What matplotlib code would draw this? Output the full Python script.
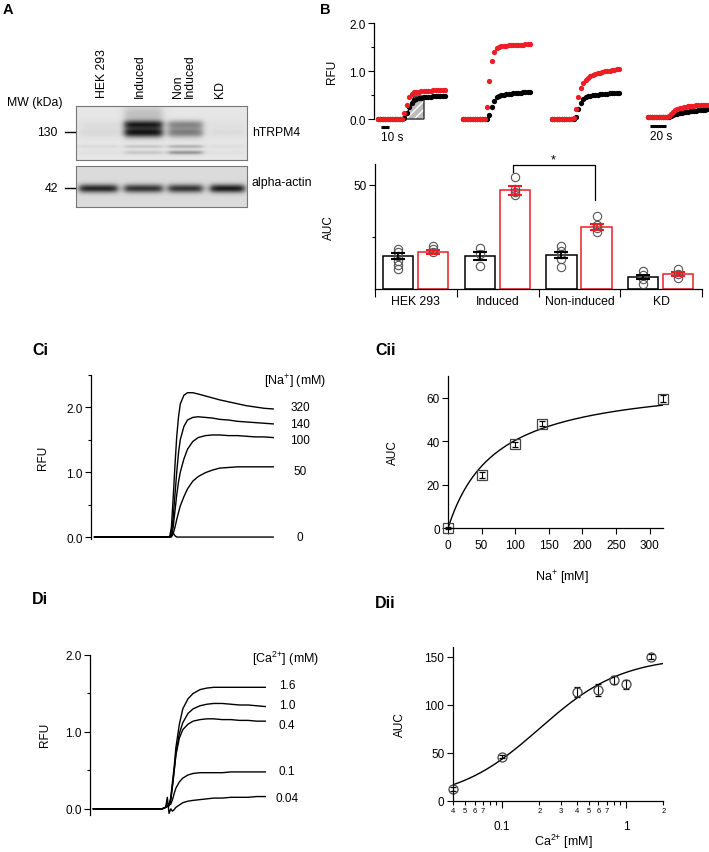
import numpy as np
import matplotlib
matplotlib.use("Agg")
import matplotlib.pyplot as plt
from matplotlib.patches import Polygon
from matplotlib.ticker import FixedLocator, FixedFormatter

plt.rcParams['font.family'] = ['Liberation Sans', 'DejaVu Sans']
plt.rcParams['mathtext.default'] = 'regular'
plt.rcParams['axes.linewidth'] = 0.9

# ---------------- data ----------------
# Panel A: western blot lanes and band intensities
lane_names = ["HEK 293", "Induced", "Non\nInduced", "KD"]
trpm4_rows = [18, 26, 40, 46]                 # band rows (px inside blot)
trpm4_amp = [[0.03, 0.05, 0.05, 0.02],        # HEK 293
             [0.70, 0.80, 0.12, 0.12],        # Induced
             [0.35, 0.40, 0.20, 0.30],        # Non induced
             [0.02, 0.04, 0.03, 0.02]]        # KD
actin_amp = [0.70, 0.65, 0.65, 0.75]

# Panel B top: example fluorescence traces (RFU)
t_short = [0, 3, 6, 9, 12, 15, 18, 21, 24, 27, 30, 33, 36, 39, 42, 45, 48,
           51, 54, 57, 60, 63, 66, 69, 72, 75, 78, 81, 84]
t_long = [0, 6, 12, 18, 24, 30, 36, 42, 48, 54, 60, 66, 72, 78, 84, 90, 96,
          102, 108, 114, 120, 126, 132, 138, 144, 150, 156, 162, 168]
hek_red = [0, 0, 0, 0, 0, 0, 0, 0, 0, 0, 0.0, 0.12, 0.30, 0.45, 0.53, 0.56,
           0.57, 0.57, 0.58, 0.58, 0.59, 0.59, 0.59, 0.60, 0.60, 0.60, 0.61, 0.61, 0.61]
hek_black = [0, 0, 0, 0, 0, 0, 0, 0, 0, 0, 0.0, 0.02, 0.12, 0.25, 0.34, 0.39,
             0.42, 0.43, 0.44, 0.45, 0.45, 0.46, 0.46, 0.47, 0.47, 0.48, 0.48, 0.49, 0.49]
ind_red = [0, 0, 0, 0, 0, 0, 0, 0, 0, 0.0, 0.25, 0.80, 1.20, 1.40, 1.47, 1.50,
           1.52, 1.53, 1.53, 1.54, 1.54, 1.54, 1.55, 1.55, 1.55, 1.55, 1.56, 1.56, 1.56]
ind_black = [0, 0, 0, 0, 0, 0, 0, 0, 0, 0, 0.0, 0.08, 0.25, 0.38, 0.45, 0.48,
             0.50, 0.51, 0.52, 0.53, 0.53, 0.54, 0.54, 0.55, 0.55, 0.56, 0.56, 0.57, 0.57]
non_red = [0, 0, 0, 0, 0, 0, 0, 0, 0, 0.02, 0.20, 0.45, 0.65, 0.76, 0.82, 0.86,
           0.89, 0.91, 0.93, 0.95, 0.96, 0.98, 0.99, 1.00, 1.01, 1.02, 1.03, 1.04, 1.05]
non_black = [0, 0, 0, 0, 0, 0, 0, 0, 0, 0, 0.05, 0.20, 0.34, 0.42, 0.46, 0.48,
             0.49, 0.50, 0.51, 0.51, 0.52, 0.52, 0.53, 0.53, 0.54, 0.54, 0.54, 0.55, 0.55]
kd_red = [0.05, 0.05, 0.05, 0.05, 0.05, 0.05, 0.05, 0.05, 0.05, 0.05, 0.07, 0.11,
          0.15, 0.18, 0.20, 0.22, 0.24, 0.25, 0.26, 0.27, 0.27, 0.28, 0.28, 0.29,
          0.29, 0.29, 0.30, 0.30, 0.30]
kd_black = [0.05, 0.05, 0.05, 0.05, 0.05, 0.05, 0.05, 0.05, 0.05, 0.05, 0.04, 0.06,
            0.08, 0.10, 0.11, 0.12, 0.13, 0.14, 0.15, 0.15, 0.16, 0.16, 0.17, 0.17,
            0.18, 0.18, 0.19, 0.19, 0.20]

# Panel B bottom: AUC bars
cell_lines = ["HEK 293", "Induced", "Non-induced", "KD"]
auc_black = [16.0, 16.0, 16.3, 5.9]
auc_black_sem = [1.5, 2.0, 1.5, 1.0]
auc_red = [17.9, 47.3, 29.6, 7.2]
auc_red_sem = [1.0, 2.0, 1.5, 0.8]
pts_black = [[19.2, 17.6, 16.0, 13.6, 11.5, 9.6], [19.6, 16.8, 11.2],
             [20.8, 18.4, 16.8, 14.4, 10.4], [8.8, 6.7, 4.8, 2.4]]
pts_red = [[20.8, 19.2, 17.6], [53.7, 48.1, 46.5, 44.9],
           [35.2, 30.8, 29.2, 27.6], [9.6, 7.2, 5.1]]

# Panel Ci: traces for different [Na+]
t_trace = [0, 40, 42, 43, 44, 45, 46, 47, 48, 50, 52, 55, 58, 62, 66, 70, 75,
           80, 85, 90, 95, 100]
na_levels = ["320", "140", "100", "50", "0"]
na_traces = [
    [0, 0, 0, 0.15, 0.60, 1.10, 1.55, 1.85, 2.05, 2.18, 2.22, 2.22, 2.20, 2.17,
     2.14, 2.11, 2.08, 2.05, 2.02, 2.00, 1.98, 1.97],
    [0, 0, 0, 0.05, 0.30, 0.65, 1.00, 1.30, 1.50, 1.70, 1.80, 1.84, 1.85, 1.84,
     1.83, 1.81, 1.80, 1.78, 1.77, 1.76, 1.75, 1.74],
    [0, 0, 0, 0.02, 0.15, 0.40, 0.65, 0.85, 1.00, 1.20, 1.35, 1.47, 1.53, 1.56,
     1.57, 1.57, 1.56, 1.56, 1.55, 1.54, 1.54, 1.53],
    [0, 0, 0, 0, 0.05, 0.15, 0.27, 0.38, 0.48, 0.62, 0.74, 0.86, 0.93, 0.99,
     1.03, 1.06, 1.07, 1.08, 1.08, 1.08, 1.08, 1.08],
    [0, 0, 0, 0.03, 0.06, 0.02, 0, 0, 0, 0, 0, 0, 0, 0, 0, 0, 0, 0, 0, 0, 0, 0],
]

# Panel Cii: AUC vs Na+
na_conc = [0, 50, 100, 140, 320]
na_auc = [0.0, 24.5, 38.5, 48.0, 59.5]
na_sem = [0.5, 1.5, 1.2, 1.2, 1.5]
na_vmax, na_km = 69.0, 71.0      # Michaelis-Menten fit

# Panel Di: traces for different [Ca2+]
ca_levels = ["1.6", "1.0", "0.4", "0.1", "0.04"]
ca_traces = [
    [0, 0, 0.02, 0.04, 0.05, 0.15, 0.35, 0.55, 0.80, 1.10, 1.30, 1.43, 1.50, 1.55,
     1.57, 1.58, 1.58, 1.58, 1.58, 1.58, 1.58, 1.58],
    [0, 0, 0.02, 0.03, 0.04, 0.12, 0.30, 0.50, 0.72, 0.98, 1.12, 1.24, 1.30, 1.34,
     1.36, 1.37, 1.37, 1.36, 1.35, 1.35, 1.34, 1.33],
    [0, 0, 0.02, 0.03, 0.04, 0.12, 0.30, 0.50, 0.70, 0.92, 1.03, 1.10, 1.14, 1.16,
     1.17, 1.17, 1.16, 1.16, 1.15, 1.15, 1.14, 1.14],
    [0, 0, 0.02, 0.08, 0.05, 0.06, 0.12, 0.20, 0.27, 0.35, 0.40, 0.44, 0.46, 0.47,
     0.47, 0.47, 0.47, 0.48, 0.48, 0.48, 0.48, 0.48],
    [0, 0, 0.02, 0.15, -0.06, 0.0, -0.03, -0.01, 0.02, 0.05, 0.08, 0.10, 0.11,
     0.12, 0.13, 0.14, 0.14, 0.15, 0.15, 0.15, 0.16, 0.16],
]

# Panel Dii: AUC vs Ca2+
ca_conc = [0.04, 0.1, 0.4, 0.6, 0.8, 1.0, 1.6]
ca_auc = [12, 46, 113, 115, 126, 121, 150]
ca_sem = [2, 2, 5, 6, 4, 5, 3]
ca_ymax, ca_ec50, ca_hill = 150.0, 0.2, 1.3   # Hill fit

RED = '#ee1c24'
FS = 8.5

# ---------------- layout helpers ----------------
W, H = 709, 853
fig = plt.figure(figsize=(W / 100, H / 100), dpi=100)


def box(x0, y0, x1, y1):
    return [x0 / W, 1 - y1 / H, (x1 - x0) / W, (y1 - y0) / H]


def ftext(x, y, s, **kw):
    fig.text(x / W, 1 - y / H, s, **kw)


def style(ax):
    ax.spines['top'].set_visible(False)
    ax.spines['right'].set_visible(False)
    ax.tick_params(direction='out', length=4, width=0.8, labelsize=FS, pad=2)
    ax.tick_params(which='minor', direction='out', length=2.5, width=0.8)
    ax.patch.set_alpha(0)


# ---------------- Panel A ----------------
def blot_image(h, w, bands, bg):
    yy, xx = np.mgrid[0:h, 0:w]
    img = np.full((h, w), bg)
    for cx, hw, cy, sy, amp in bands:
        prof_x = 1 / (1 + np.exp((np.abs(xx - cx) - hw) / 2.0))
        prof_y = np.exp(-0.5 * ((yy - cy) / sy) ** 2)
        img = img - amp * prof_x * prof_y
    return np.clip(img, 0, 1)


lane_cx = [22, 67, 109, 151]
lane_hw = [19, 19, 17, 17]
band_sy = [3.0, 3.5, 1.3, 1.5]

top_bands = []
for i in range(4):
    for j in range(4):
        top_bands.append((lane_cx[i], lane_hw[i], trpm4_rows[j], band_sy[j], trpm4_amp[i][j]))
top_bands.append((lane_cx[1], lane_hw[1], 8, 6, 0.15))   # smear above induced band
bot_bands = [(lane_cx[i], lane_hw[i], 22, 3.0, actin_amp[i]) for i in range(4)]

ax_b1 = fig.add_axes(box(76, 107, 247, 161))
ax_b1.imshow(blot_image(54, 171, top_bands, 0.90), cmap='gray', vmin=0, vmax=1, aspect='auto')
ax_b2 = fig.add_axes(box(76, 167, 247, 208))
ax_b2.imshow(blot_image(41, 171, bot_bands, 0.86), cmap='gray', vmin=0, vmax=1, aspect='auto')
for ax in (ax_b1, ax_b2):
    ax.set_xticks([])
    ax.set_yticks([])
    for sp in ax.spines.values():
        sp.set_color('#777777')
        sp.set_linewidth(0.8)

ftext(3, 10, "A", fontsize=10.5, fontweight='bold', va='center')
label_x = [102, 140, 184, 220]
for x, name in zip(label_x, lane_names):
    ftext(x, 98, name, rotation=90, ha='center', va='bottom', fontsize=8.8,
          multialignment='left', linespacing=1.0)
ftext(7, 103, "MW (kDa)", fontsize=8.8, va='center')
ftext(58, 133, "130", fontsize=8.8, ha='right', va='center')
ftext(58, 189, "42", fontsize=8.8, ha='right', va='center')
fig.add_artist(plt.Line2D([65 / W, 75 / W], [1 - 133 / H, 1 - 133 / H], color='black', lw=1))
fig.add_artist(plt.Line2D([65 / W, 75 / W], [1 - 189 / H, 1 - 189 / H], color='black', lw=1))
ftext(252, 133, "hTRPM4", fontsize=8.8, va='center')
ftext(251, 183, "alpha-actin", fontsize=8.8, va='center')

# ---------------- Panel B top: traces ----------------
ftext(320, 10, "B", fontsize=10.5, fontweight='bold', va='center')
ax_tr = fig.add_axes(box(374, 24, 708, 145))
style(ax_tr)
ax_tr.spines['bottom'].set_visible(False)
ax_tr.set_xlim(0, 417.5)
ax_tr.set_ylim(-0.52, 2.0)
ax_tr.spines['left'].set_bounds(0, 2)
ax_tr.set_xticks([])
ax_tr.set_yticks([0, 1, 2])
ax_tr.set_yticklabels(["0.0", "1.0", "2.0"])
ax_tr.set_yticks([0.5, 1.5], minor=True)

groups = [(5.0, 1.0, t_short, hek_black, hek_red),
          (111.25, 1.0, t_short, ind_black, ind_red),
          (222.5, 1.0, t_short, non_black, non_red),
          (342.5, 0.4375, t_long, kd_black, kd_red)]

# AUC illustration (hatched area) in the first group
auc_shape = [(5 + 33.75, 0), (5 + 45, 0.48), (5 + 57.5, 0.48), (5 + 57.5, 0)]
ax_tr.add_patch(Polygon(auc_shape, closed=True, facecolor='#bcbcbc', edgecolor='white',
                        hatch='////', lw=0, zorder=1))
ax_tr.add_patch(Polygon(auc_shape, closed=True, fill=False, edgecolor='black', lw=0.8, zorder=1.5))

for off, k, tt, yb, yr in groups:
    xs = [off + k * t for t in tt]
    ax_tr.plot(xs, yb, 'o', color='black', ms=3.8, mew=0, zorder=2)
    ax_tr.plot(xs, yr, 'o', color=RED, ms=3.8, mew=0, zorder=3)

# scale bars
ax_tr.plot([8.75, 18.75], [-0.17, -0.17], color='black', lw=2.2, solid_capstyle='butt')
ax_tr.text(8.75, -0.24, "10 s", fontsize=FS, va='top', ha='left')
ax_tr.plot([345, 365], [-0.15, -0.15], color='black', lw=2.2, solid_capstyle='butt')
ax_tr.text(345, -0.22, "20 s", fontsize=FS, va='top', ha='left')
ftext(332, 72, "RFU", rotation=90, fontsize=FS, ha='center', va='center')

# ---------------- Panel B bottom: bars ----------------
ax_bar = fig.add_axes(box(375, 165, 702, 290))
style(ax_bar)
ax_bar.set_xlim(0, 4)
ax_bar.set_ylim(0, 60)
xb = np.arange(4) + 0.28
xr = np.arange(4) + 0.71
ax_bar.bar(xb, auc_black, width=0.37, facecolor='white', edgecolor='black', lw=1.1, zorder=1)
ax_bar.bar(xr, auc_red, width=0.37, facecolor='white', edgecolor=RED, lw=1.1, zorder=1)
for i in range(4):
    ax_bar.plot([xb[i]] * len(pts_black[i]), pts_black[i], 'o', mfc='none', mec='#555555',
                ms=6, mew=0.8, zorder=2)
    ax_bar.plot([xr[i]] * len(pts_red[i]), pts_red[i], 'o', mfc='none', mec='#555555',
                ms=6, mew=0.8, zorder=2)
ax_bar.errorbar(xb, auc_black, yerr=auc_black_sem, fmt='none', ecolor='black',
                elinewidth=1.3, capsize=5, capthick=1.5, zorder=3)
ax_bar.errorbar(xr, auc_red, yerr=auc_red_sem, fmt='none', ecolor=RED,
                elinewidth=1.3, capsize=5, capthick=1.5, zorder=3)
ax_bar.set_yticks([50])
ax_bar.set_yticks([25], minor=True)
ax_bar.set_xticks([0, 1, 2, 3, 4])
ax_bar.set_xticklabels([])
ax_bar.tick_params(axis='x', which='major', length=6)
ax_bar.set_xticks([0.5, 1.5, 2.5, 3.5], minor=True)
ax_bar.set_xticklabels(cell_lines, minor=True, fontsize=8.8)
ax_bar.tick_params(axis='x', which='minor', length=0, pad=4.5)
ax_bar.plot([1.69, 1.69, 2.69, 2.69], [56, 59.5, 59.5, 42.7], color='black', lw=0.9,
            clip_on=False)
ax_bar.text(2.18, 62, "*", fontsize=9, ha='center', va='center')
ftext(329, 228, "AUC", rotation=90, fontsize=FS, ha='center', va='center')

# ---------------- Panel Ci ----------------
ftext(32, 351, "Ci", fontsize=11.5, fontweight='bold', va='center')
ax_ci = fig.add_axes(box(91, 375.5, 275, 540))
style(ax_ci)
ax_ci.spines['bottom'].set_visible(False)
ax_ci.set_xlim(-2, 101)
ax_ci.set_ylim(-0.03, 2.5)
ax_ci.set_xticks([])
ax_ci.set_yticks([0, 1, 2])
ax_ci.set_yticklabels(["0.0", "1.0", "2.0"])
ax_ci.set_yticks([0.5, 1.5, 2.5], minor=True)
for tr in na_traces:
    ax_ci.plot(t_trace, tr, color='black', lw=1.0)
ftext(295, 382, "[Na$^{+}$] (mM)", fontsize=9, ha='center', va='center')
for lab, yy in zip(na_levels, [408, 425, 441, 472, 538]):
    ftext(300, yy, lab, fontsize=FS, ha='center', va='center')
ftext(43, 458, "RFU", rotation=90, fontsize=FS, ha='center', va='center')

# ---------------- Panel Cii ----------------
ftext(375, 351, "Cii", fontsize=11.5, fontweight='bold', va='center')
ax_cii = fig.add_axes(box(448, 376.7, 663, 529.3))
style(ax_cii)
ax_cii.set_xlim(0, 320)
ax_cii.set_ylim(0, 70)
ax_cii.set_xticks([0, 50, 100, 150, 200, 250, 300])
ax_cii.set_yticks([0, 20, 40, 60])
ax_cii.tick_params(axis='x', pad=4)
xfit = np.linspace(0, 320, 200)
ax_cii.plot(xfit, na_vmax * xfit / (na_km + xfit), color='black', lw=1.0)
eb = ax_cii.errorbar(na_conc, na_auc, yerr=na_sem, fmt='s', mfc='none', mec='#444444',
                     ms=6.5, mew=0.9, ecolor='black', elinewidth=0.8, capsize=2)
for art in eb.get_children():
    art.set_clip_on(False)
ftext(562, 578, "Na$^{+}$ [mM]", fontsize=9, ha='center', va='center')
ftext(393, 453, "AUC", rotation=90, fontsize=FS, ha='center', va='center')

# ---------------- Panel Di ----------------
ftext(32, 600, "Di", fontsize=11.5, fontweight='bold', va='center')
ax_di = fig.add_axes(box(90, 656, 267, 816))
style(ax_di)
ax_di.spines['bottom'].set_visible(False)
ax_di.set_xlim(-2, 101)
ax_di.set_ylim(-0.08, 2.0)
ax_di.set_xticks([])
ax_di.set_yticks([0, 1, 2])
ax_di.set_yticklabels(["0.0", "1.0", "2.0"])
ax_di.set_yticks([0.5, 1.5], minor=True)
for tr in ca_traces:
    ax_di.plot(t_trace, tr, color='black', lw=1.0)
ftext(286, 659, "[Ca$^{2{+}}$] (mM)", fontsize=9, ha='center', va='center')
for lab, yy in zip(ca_levels, [686, 706, 726, 772, 799]):
    ftext(287, yy, lab, fontsize=FS, ha='center', va='center')
ftext(45, 735, "RFU", rotation=90, fontsize=FS, ha='center', va='center')

# ---------------- Panel Dii ----------------
ftext(375, 604, "Dii", fontsize=11.5, fontweight='bold', va='center')
ax_dii = fig.add_axes(box(452.7, 648, 663.3, 801.7))
style(ax_dii)
ax_dii.set_xscale('log')
ax_dii.set_xlim(0.04, 2)
ax_dii.set_ylim(0, 160)
ax_dii.set_yticks([0, 50, 100, 150])
ax_dii.xaxis.set_major_locator(FixedLocator([0.1, 1]))
ax_dii.xaxis.set_major_formatter(FixedFormatter(["0.1", "1"]))
minor_pos = [0.04, 0.05, 0.06, 0.07, 0.08, 0.09, 0.2, 0.3, 0.4, 0.5, 0.6, 0.7, 0.8, 0.9, 2]
minor_lab = ["4", "5", "6", "7", "", "", "2", "3", "4", "5", "6", "7", "", "", "2"]
ax_dii.xaxis.set_minor_locator(FixedLocator(minor_pos))
ax_dii.xaxis.set_minor_formatter(FixedFormatter(minor_lab))
ax_dii.tick_params(axis='x', which='major', length=5, pad=9)
ax_dii.tick_params(axis='x', which='minor', length=3, labelsize=5.5, pad=1.5)
xfit2 = np.logspace(np.log10(0.04), np.log10(2), 200)
ax_dii.plot(xfit2, ca_ymax * xfit2 ** ca_hill / (ca_ec50 ** ca_hill + xfit2 ** ca_hill),
            color='black', lw=1.0)
eb2 = ax_dii.errorbar(ca_conc, ca_auc, yerr=ca_sem, fmt='o', mfc='none', mec='#444444',
                      ms=6.5, mew=0.9, ecolor='black', elinewidth=0.8, capsize=2)
for art in eb2.get_children():
    art.set_clip_on(False)
ftext(563, 842, "Ca$^{2{+}}$ [mM]", fontsize=9, ha='center', va='center')
ftext(400, 725, "AUC", rotation=90, fontsize=FS, ha='center', va='center')

fig.savefig("out.png", dpi=100)
